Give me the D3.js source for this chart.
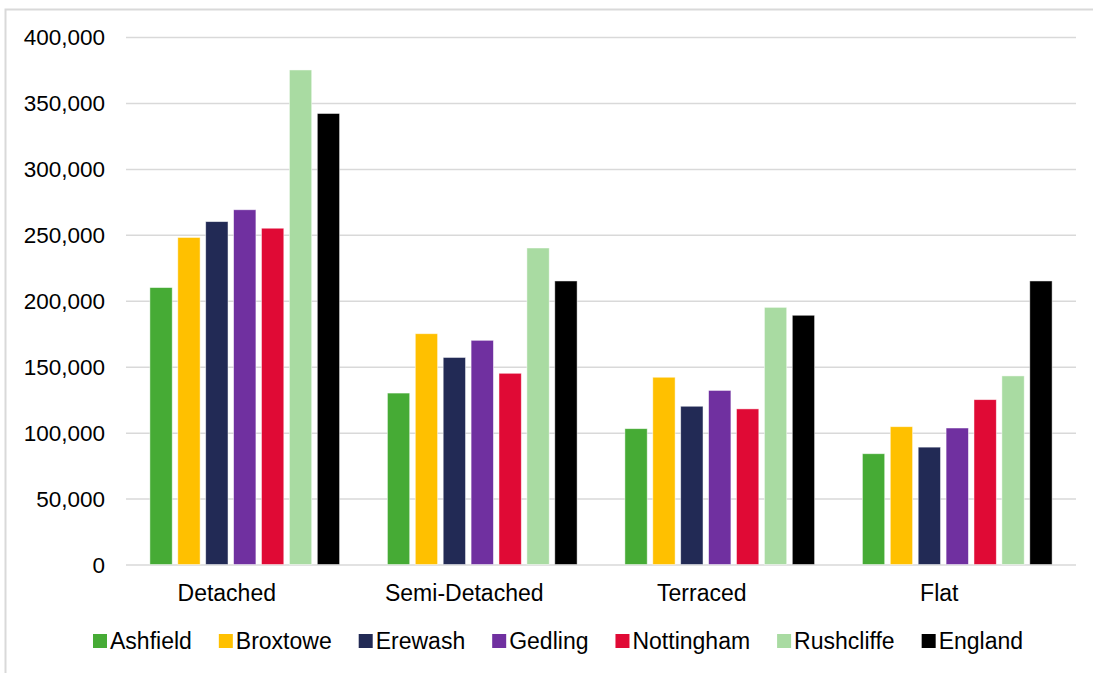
<!DOCTYPE html>
<html>
<head>
<meta charset="utf-8">
<script src="https://cdn.jsdelivr.net/npm/d3@7"></script>
<style>
  html, body { margin: 0; padding: 0; background: #fff; }
  svg { display: block; font-family: "Liberation Sans", Arial, sans-serif; }
</style>
</head>
<body>
<svg id="chart" width="1093" height="673"></svg>
<script>
const categories = ["Detached", "Semi-Detached", "Terraced", "Flat"];
const seriesNames = ["Ashfield", "Broxtowe", "Erewash", "Gedling", "Nottingham", "Rushcliffe", "England"];
const seriesColors = ["#46ab35", "#ffc000", "#222a55", "#7030a0", "#e00a35", "#a9dba2", "#000000"];
const ashfield   = [210000, 130000, 103000, 84000];
const broxtowe   = [248000, 175000, 142000, 104500];
const erewash    = [260000, 157000, 120000, 89000];
const gedling    = [269000, 170000, 132000, 103500];
const nottingham = [255000, 145000, 118000, 125000];
const rushcliffe = [375000, 240000, 195000, 143000];
const england    = [342000, 215000, 189000, 215000];
const yTicks = [0, 50000, 100000, 150000, 200000, 250000, 300000, 350000, 400000];

const seriesValues = [ashfield, broxtowe, erewash, gedling, nottingham, rushcliffe, england];

const svg = d3.select("#chart");
const plot = { left: 126, right: 1076, top: 37, bottom: 564.5 };

// outer border
svg.append("rect")
  .attr("x", 5.5).attr("y", 9.5)
  .attr("width", 1200).attr("height", 800)
  .attr("fill", "none").attr("stroke", "#d9d9d9").attr("stroke-width", 2);

const y = d3.scaleLinear().domain([0, 400000]).range([plot.bottom, plot.top]);
const x0 = d3.scaleBand().domain(categories).range([plot.left, plot.right]).paddingInner(0).paddingOuter(0);
const bw = x0.bandwidth();
const x1 = d3.scaleBand().domain(seriesNames).range([21.1, bw - 21.1]).paddingInner(0.2).paddingOuter(0.1);

// gridlines
const yAxis = d3.axisLeft(y).tickValues(yTicks).tickSize(-(plot.right - plot.left))
  .tickFormat(d => d3.format(",")(d));
const gy = svg.append("g").attr("transform", `translate(${plot.left},0)`).call(yAxis);
gy.select(".domain").remove();
gy.selectAll(".tick line").attr("stroke", "#d9d9d9").attr("stroke-width", 1.5);
gy.selectAll(".tick text")
  .attr("x", -21).attr("dy", "0.35em")
  .attr("fill", "#000").style("font-size", "22.5px")
  .style("font-family", "'Liberation Sans', Arial, sans-serif");

// bars
const groups = svg.append("g").selectAll("g")
  .data(categories)
  .join("g")
  .attr("transform", d => `translate(${x0(d)},0)`);

groups.selectAll("rect")
  .data((c, ci) => seriesNames.map((s, si) => ({ s, si, v: seriesValues[si][ci] })))
  .join("rect")
  .attr("x", d => x1(d.s))
  .attr("width", x1.bandwidth())
  .attr("y", d => y(d.v))
  .attr("height", d => y(0) - y(d.v))
  .attr("fill", d => seriesColors[d.si])
  .attr("stroke", "#ffffff")
  .attr("stroke-opacity", 0.6)
  .attr("stroke-width", 0.8);

// category axis
const xAxis = d3.axisBottom(x0).tickSize(0).tickPadding(0);
const gx = svg.append("g").attr("transform", `translate(0,${plot.bottom})`).call(xAxis);
gx.select(".domain").remove();
gx.selectAll(".tick text")
  .attr("x", -18).attr("y", 28).attr("dy", "0.35em")
  .attr("fill", "#000").style("font-size", "23px")
  .style("font-family", "'Liberation Sans', Arial, sans-serif");

// legend
const legend = svg.append("g").attr("transform", "translate(93,641)");
let lx = 0;
seriesNames.forEach((name, i) => {
  const g = legend.append("g").attr("transform", `translate(${lx},0)`);
  g.append("rect").attr("x", 0).attr("y", -7).attr("width", 14).attr("height", 14).attr("fill", seriesColors[i]);
  const t = g.append("text").attr("x", 17).attr("dy", "0.35em")
    .style("font-size", "23px").attr("fill", "#000").text(name);
  lx += 17 + t.node().getComputedTextLength() + 27;
});
</script>
</body>
</html>
